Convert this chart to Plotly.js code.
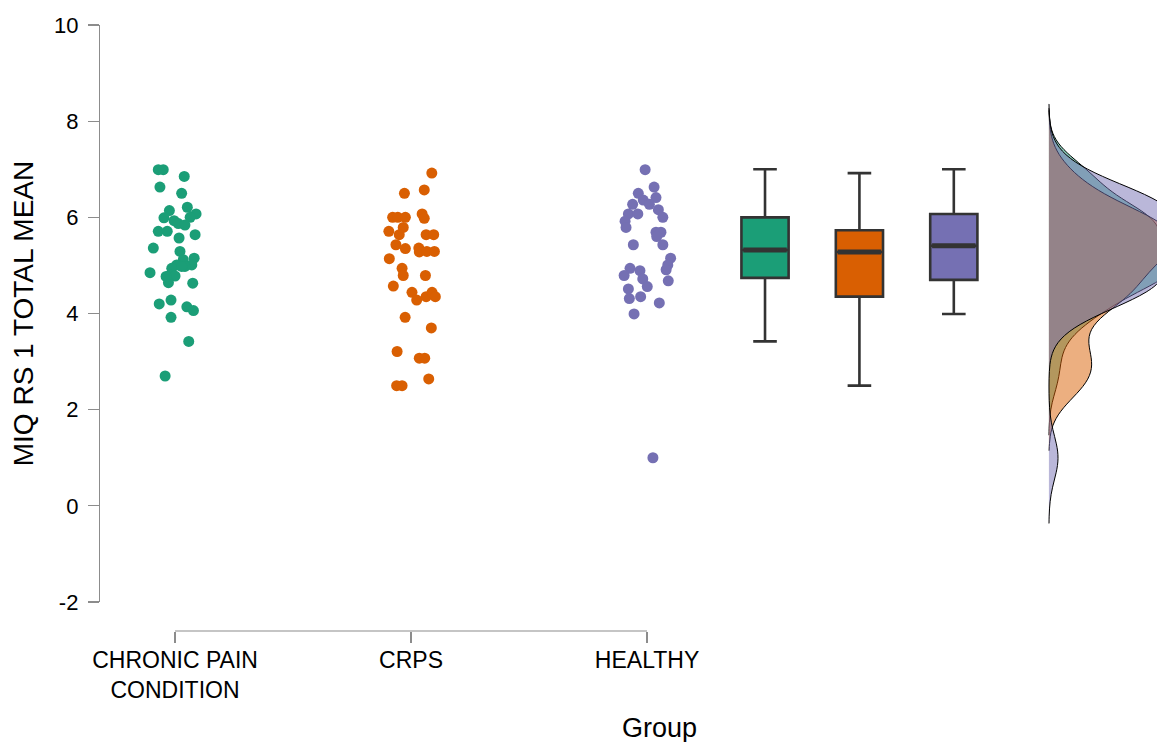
<!DOCTYPE html>
<html>
<head>
<meta charset="utf-8">
<script src="https://cdn.plot.ly/plotly-3.0.1.min.js"></script>
<style>html,body{margin:0;padding:0;background:#fff;}#chart{width:1157px;height:742px;}</style>
</head>
<body>
<div id="chart"></div>
<script>
// ---- data ----
const categories = ["CHRONIC PAIN<br>CONDITION", "CRPS", "HEALTHY"];
const tickPositions = [0, 1, 2];
const yTickVals = [-2, 0, 2, 4, 6, 8, 10];
const yTickText = ["-2", "0", "2", "4", "6", "8", "10"];

const chronicValues = [6.99, 6.99, 6.85, 6.63, 6.50, 6.21, 6.14, 6.07, 5.99, 5.93, 6.00, 5.87, 5.84, 5.71, 5.71, 5.64, 5.57, 5.36, 5.29, 5.15, 5.12, 5.01, 5.01, 4.94, 4.85, 4.98, 4.80, 4.78, 4.64, 4.63, 4.20, 4.28, 4.14, 4.06, 3.92, 3.42, 2.70, 4.77, 4.98];
const chronicJitter = [-0.071, -0.050, 0.039, -0.064, 0.028, 0.052, -0.024, 0.089, -0.047, -0.004, 0.064, 0.014, 0.042, -0.071, -0.033, 0.085, 0.017, -0.092, 0.021, 0.081, 0.035, 0.007, 0.071, -0.014, -0.106, 0.042, -0.021, 0.000, -0.028, 0.075, -0.067, -0.017, 0.050, 0.078, -0.017, 0.058, -0.042, -0.038, 0.028];

const crpsValues = [6.92, 6.50, 6.57, 6.00, 6.00, 6.00, 6.07, 5.98, 5.71, 5.79, 5.64, 5.64, 5.64, 5.43, 5.35, 5.36, 5.28, 5.29, 5.29, 5.14, 4.94, 4.79, 4.79, 4.57, 4.44, 4.28, 4.35, 4.44, 4.35, 3.92, 3.70, 3.21, 3.07, 3.07, 2.50, 2.50, 2.64];
const crpsJitter = [0.088, -0.028, 0.056, -0.078, -0.056, -0.024, 0.047, 0.056, -0.094, -0.033, -0.050, 0.064, 0.096, -0.064, -0.024, 0.033, 0.035, 0.067, 0.099, -0.092, -0.038, -0.033, 0.061, -0.075, 0.004, 0.024, 0.064, 0.089, 0.103, -0.025, 0.086, -0.059, 0.035, 0.058, -0.061, -0.038, 0.075];

const healthyValues = [6.99, 6.63, 6.50, 6.41, 6.36, 6.27, 6.27, 6.16, 6.07, 6.07, 6.00, 5.92, 5.79, 5.69, 5.69, 5.60, 5.43, 5.43, 5.15, 5.01, 4.91, 4.94, 4.89, 4.79, 4.72, 4.68, 4.56, 4.51, 4.31, 4.35, 4.22, 3.99, 1.00];
const healthyJitter = [-0.008, 0.030, -0.037, 0.038, -0.016, -0.061, 0.010, 0.048, -0.079, -0.039, 0.067, -0.093, -0.089, 0.038, 0.059, 0.041, -0.058, 0.067, 0.100, 0.088, 0.081, -0.072, -0.030, -0.097, -0.018, 0.090, 0.001, -0.079, -0.075, -0.027, 0.052, -0.055, 0.025];

// box summaries
const boxQ1 = [4.74, 4.35, 4.70];
const boxMedian = [5.32, 5.28, 5.41];
const boxQ3 = [6.00, 5.73, 6.07];
const boxLower = [3.42, 2.50, 3.99];
const boxUpper = [7.00, 6.92, 7.00];

// ---- styling / layout constants ----
const colors = ["#1b9e77", "#d95f02", "#7570b3"];
const fills = ["rgba(27,158,119,0.5)", "rgba(217,95,2,0.5)", "rgba(117,112,179,0.5)"];
const boxPos = [2.5, 2.9, 3.3];
const boxWidth = 0.2;
const densityPos = 3.703;
const bandwidths = [0.41, 0.45, 0.455];
const axisGrey = "#8c8c8c";
const FONT = "Liberation Sans, Arial, sans-serif";

const groups = [
  {vals: chronicValues, jit: chronicJitter},
  {vals: crpsValues, jit: crpsJitter},
  {vals: healthyValues, jit: healthyJitter}
];

const traces = [];

// densities (half violins)
groups.forEach((g, i) => {
  const mn = Math.min(...g.vals), mx = Math.max(...g.vals);
  traces.push({
    type: "violin",
    x0: densityPos,
    y: g.vals,
    side: "positive",
    orientation: "v",
    bandwidth: bandwidths[i],
    spanmode: "manual",
    span: [mn - 3 * bandwidths[i], mx + 3 * bandwidths[i]],
    scalegroup: "dens",
    scalemode: "width",
    width: 1.05,
    points: false,
    box: {visible: false},
    meanline: {visible: false},
    fillcolor: fills[i],
    line: {color: "#000000", width: 1},
    hoverinfo: "skip",
    showlegend: false
  });
});

// boxes
groups.forEach((g, i) => {
  traces.push({
    type: "box",
    x: [boxPos[i]],
    q1: [boxQ1[i]],
    median: [boxMedian[i]],
    q3: [boxQ3[i]],
    lowerfence: [boxLower[i]],
    upperfence: [boxUpper[i]],
    width: boxWidth,
    whiskerwidth: 0.5,
    boxpoints: false,
    fillcolor: colors[i],
    line: {color: "#333333", width: 2.6},
    hoverinfo: "skip",
    showlegend: false
  });
  // thicker median bar
  traces.push({
    type: "scatter",
    mode: "lines",
    x: [boxPos[i] - boxWidth / 2 + 0.008, boxPos[i] + boxWidth / 2 - 0.008],
    y: [boxMedian[i], boxMedian[i]],
    line: {color: "#333333", width: 5},
    hoverinfo: "skip",
    showlegend: false
  });
});

// jittered points
groups.forEach((g, i) => {
  traces.push({
    type: "scatter",
    mode: "markers",
    x: g.vals.map((v, k) => tickPositions[i] + g.jit[k]),
    y: g.vals,
    marker: {color: colors[i], size: 11},
    hoverinfo: "skip",
    showlegend: false
  });
});

const layout = {
  width: 1157,
  height: 742,
  margin: {l: 100, r: 0, t: 25, b: 111},
  paper_bgcolor: "#ffffff",
  plot_bgcolor: "#ffffff",
  boxmode: "overlay",
  violinmode: "overlay",
  showlegend: false,
  font: {family: FONT, color: "#000000"},
  xaxis: {
    range: [-0.318, 4.161],
    domain: [0, 1],
    anchor: "free",
    position: 0,
    showgrid: false,
    zeroline: false,
    showline: false,
    tickmode: "array",
    tickvals: tickPositions,
    ticktext: categories,
    ticks: "outside",
    ticklen: 11,
    tickwidth: 1.2,
    tickcolor: axisGrey,
    ticklabelstandoff: -3,
    tickfont: {family: FONT, size: 23, color: "#000000"}
  },
  yaxis: {
    range: [-2, 10],
    domain: [29 / 606, 1],
    showgrid: false,
    zeroline: false,
    showline: true,
    linecolor: axisGrey,
    linewidth: 1.2,
    tickmode: "array",
    tickvals: yTickVals,
    ticktext: yTickText,
    ticks: "outside",
    ticklen: 11,
    tickwidth: 1.2,
    tickcolor: axisGrey,
    ticklabelstandoff: 5,
    tickfont: {family: FONT, size: 22, color: "#000000"},
    title: {text: "MIQ RS 1 TOTAL MEAN", font: {family: FONT, size: 28, color: "#000000"}, standoff: 12}
  },
  shapes: [{
    type: "line", xref: "x", yref: "paper",
    x0: tickPositions[0], x1: tickPositions[tickPositions.length - 1], y0: 0, y1: 0,
    line: {color: axisGrey, width: 1.2}
  }],
  annotations: [{
    text: "Group", xref: "paper", yref: "paper",
    x: (659 - 100) / 1057, y: -0.16, xanchor: "center", yanchor: "middle",
    showarrow: false, font: {family: FONT, size: 27, color: "#000000"}
  }]
};

Plotly.newPlot("chart", traces, layout, {displayModeBar: false, staticPlot: true});
</script>
</body>
</html>
